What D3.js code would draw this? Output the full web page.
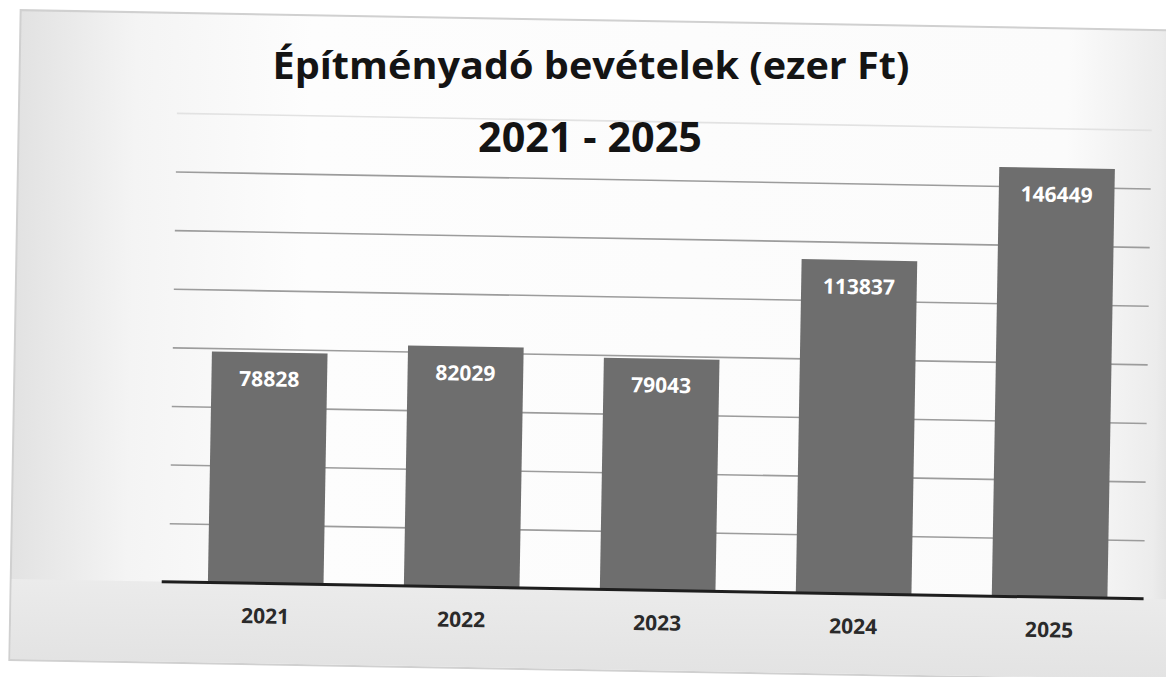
<!DOCTYPE html>
<html><head><meta charset="utf-8">
<script src="https://cdn.jsdelivr.net/npm/d3@7"></script>
<style>html,body{margin:0;padding:0;background:#fff;} svg{display:block}</style>
</head><body>
<svg id="chart" width="1166" height="677"></svg>
<script>
// ---- data ----
const titleLines = ["Építményadó bevételek (ezer Ft)", "2021 - 2025"];
const years = ["2021", "2022", "2023", "2024", "2025"];
const values = [78828, 82029, 79043, 113837, 146449];
const gridTicks = [20000, 40000, 60000, 80000, 100000, 120000, 140000, 160000];
const yMax = 160000;

// ---- drawing ----
const svg = d3.select("#chart");
const defs = svg.append("defs");

const lg = defs.append("linearGradient").attr("id", "slideGrad").attr("x1", 0).attr("x2", 1).attr("y1", 0).attr("y2", 0);
lg.append("stop").attr("offset", "0%").attr("stop-color", "#e2e2e2");
lg.append("stop").attr("offset", "10%").attr("stop-color", "#f4f4f4");
lg.append("stop").attr("offset", "25%").attr("stop-color", "#fdfdfd");
lg.append("stop").attr("offset", "90%").attr("stop-color", "#fbfbfb");
lg.append("stop").attr("offset", "98%").attr("stop-color", "#ececec");
lg.append("stop").attr("offset", "100%").attr("stop-color", "#dedede");

const bg = defs.append("linearGradient").attr("id", "bottomGrad").attr("x1", 0).attr("x2", 0).attr("y1", 0).attr("y2", 1);
bg.append("stop").attr("offset", "0%").attr("stop-color", "#ebebeb");
bg.append("stop").attr("offset", "100%").attr("stop-color", "#e3e3e3");

const g = svg.append("g").attr("transform", "rotate(1 583 340)");

const x = d3.scaleBand().domain(years).range([172, 1152]).paddingInner(0.41).paddingOuter(0.205);
const y = d3.scaleLinear().domain([0, yMax]).range([589, 120]);

// slide frame
g.append("rect").attr("x", 15).attr("y", 20).attr("width", 1165).attr("height", 650)
  .attr("fill", "url(#slideGrad)").attr("stroke", "#d0d0d0").attr("stroke-width", 2);
// area below baseline
g.append("rect").attr("x", 16).attr("y", y(0)).attr("width", 1163).attr("height", 669 - y(0))
  .attr("fill", "url(#bottomGrad)");

// gridlines
const grid = g.append("g").attr("transform", "translate(173,0)")
  .call(d3.axisLeft(y).tickValues(gridTicks).tickSize(-(1148 - 173)).tickFormat(""));
grid.select(".domain").remove();
grid.selectAll(".tick line")
  .attr("stroke", d => d === yMax ? "#e2e2e2" : "#9c9c9c")
  .attr("stroke-width", 1.6);

// bars
g.selectAll("rect.bar").data(years).join("rect").attr("class", "bar")
  .attr("x", d => x(d)).attr("width", x.bandwidth())
  .attr("y", (d, i) => y(values[i])).attr("height", (d, i) => y(0) - y(values[i]))
  .attr("fill", "#6e6e6e");

// baseline
g.append("line").attr("x1", 166).attr("x2", 1148).attr("y1", y(0)).attr("y2", y(0))
  .attr("stroke", "#1e1e1e").attr("stroke-width", 3);

// x axis labels
const xa = g.append("g").attr("transform", `translate(0,${y(0)})`)
  .call(d3.axisBottom(x).tickSize(0));
xa.select(".domain").remove();
xa.selectAll(".tick text")
  .attr("y", 40).attr("dy", 0)
  .attr("font-family", "'Open Sans', sans-serif").attr("font-weight", 700)
  .attr("font-size", 21).attr("fill", "#2a2a2a");

// value labels
g.selectAll("text.val").data(years).join("text").attr("class", "val")
  .attr("x", d => x(d) + x.bandwidth() / 2)
  .attr("y", (d, i) => y(values[i]) + 34)
  .attr("text-anchor", "middle")
  .attr("font-family", "'Open Sans', sans-serif").attr("font-weight", 700)
  .attr("font-size", 21).attr("fill", "#ffffff")
  .text((d, i) => values[i]);

// title
const tl = svg.append("g");
tl.append("text").attr("x", 591).attr("y", 79).attr("text-anchor", "middle")
  .attr("font-family", "'Open Sans', sans-serif").attr("font-weight", 700)
  .attr("font-size", 38).attr("fill", "#141414")
  .attr("textLength", 637).attr("lengthAdjust", "spacingAndGlyphs")
  .text(titleLines[0]);
tl.append("text").attr("x", 590).attr("y", 152).attr("text-anchor", "middle")
  .attr("font-family", "'Open Sans', sans-serif").attr("font-weight", 700)
  .attr("font-size", 42).attr("fill", "#141414")
  .attr("textLength", 224).attr("lengthAdjust", "spacingAndGlyphs")
  .text(titleLines[1]);
</script>
</body></html>
